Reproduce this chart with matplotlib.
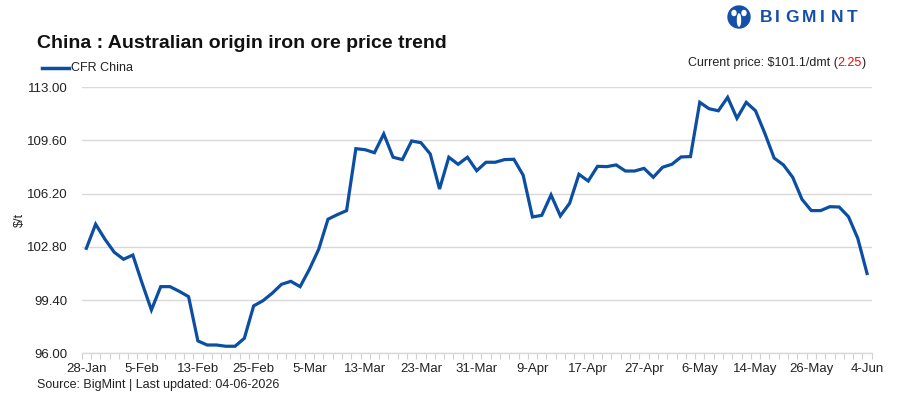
import matplotlib
matplotlib.use("Agg")
import matplotlib.pyplot as plt
from matplotlib.patches import Circle, Ellipse
import numpy as np

# ---- data ----
prices = [102.71, 104.25, 103.29, 102.46, 102.01, 102.28, 100.48, 98.77, 100.26, 100.26,
          99.96, 99.62, 96.79, 96.53, 96.53, 96.45, 96.45, 96.96, 99.03, 99.36,
          99.84, 100.41, 100.60, 100.26, 101.37, 102.65, 104.57, 104.86, 105.12, 109.08,
          109.01, 108.82, 110.02, 108.53, 108.38, 109.57, 109.46, 108.74, 106.50, 108.53,
          108.08, 108.53, 107.67, 108.21, 108.21, 108.38, 108.40, 107.38, 104.71, 104.82,
          106.12, 104.78, 105.59, 107.44, 107.01, 107.95, 107.93, 108.04, 107.65, 107.65,
          107.82, 107.25, 107.89, 108.08, 108.55, 108.57, 112.04, 111.63, 111.50, 112.36,
          111.02, 112.04, 111.50, 110.06, 108.48, 108.04, 107.25, 105.84, 105.12, 105.12,
          105.37, 105.35, 104.73, 103.35, 101.10]
tick_labels = ['28-Jan', '5-Feb', '13-Feb', '25-Feb', '5-Mar', '13-Mar', '23-Mar', '31-Mar',
               '9-Apr', '17-Apr', '27-Apr', '6-May', '14-May', '26-May', '4-Jun']
y_ticks = [96.00, 99.40, 102.80, 106.20, 109.60, 113.00]
series_name = 'CFR China'
title = 'China : Australian origin iron ore price trend'
current_price = 101.1
change = 2.25

W, H = 905, 405
fig = plt.figure(figsize=(W / 100, H / 100), dpi=100)
plt.rcParams['font.family'] = ['Liberation Sans', 'DejaVu Sans']

def fx(px):
    return px / W

def fy(py):
    return 1 - py / H

ax = fig.add_axes([fx(81.7), fy(353.3), fx(871.7) - fx(81.7), fy(87.3) - fy(353.3)])
blue = '#0b4ea2'
x = np.arange(len(prices))
ax.plot(x, prices, color=blue, lw=2.3, solid_joinstyle='miter', zorder=3)

ax.set_xlim(-0.5, len(prices) - 0.5)
ax.set_ylim(y_ticks[0], y_ticks[-1])
ax.set_yticks(y_ticks)
ax.set_yticklabels([f'{v:.2f}' for v in y_ticks], fontsize=9.5, color='#222222')
ax.tick_params(axis='y', length=0, pad=10)
ax.grid(axis='y', color='#d9d9d9', lw=1.0)
ax.set_axisbelow(True)

ax.set_xticks(np.arange(0, len(prices), 6))
ax.set_xticklabels(tick_labels, fontsize=9.5, color='#222222')
ax.set_xticks(np.arange(-0.5, len(prices), 1), minor=True)
ax.tick_params(axis='x', which='major', length=0, pad=7)
ax.tick_params(axis='x', which='minor', length=4, color='#d0d0d0', width=0.8)

for s in ['top', 'right', 'left']:
    ax.spines[s].set_visible(False)
ax.spines['bottom'].set_color('#d9d9d9')
ax.spines['bottom'].set_linewidth(1.0)

# y label
fig.text(fx(20), fy(220), '$/t', rotation=90, fontsize=9, ha='center', va='center', color='#222222')

# title
fig.text(fx(37), fy(43), title, fontsize=14, fontweight='bold', ha='left', va='center', color='#111111')

# legend
fig.add_artist(plt.Line2D([fx(42), fx(69)], [fy(68), fy(68)], color=blue, lw=2.5))
fig.text(fx(71), fy(68), series_name, fontsize=9, ha='left', va='center', color='#222222')

# current price
t2 = fig.text(fx(866), fy(63), ')', fontsize=9, ha='right', va='center', color='#222222')
fig.canvas.draw()
r = fig.canvas.get_renderer()
bb = t2.get_window_extent(r)
t3 = fig.text(bb.x0 / W, fy(63), f'{change:.2f}', fontsize=9, ha='right', va='center', color='#ff0000')
bb = t3.get_window_extent(r)
fig.text(bb.x0 / W, fy(63), f'Current price: ${current_price}/dmt (', fontsize=9, ha='right', va='center', color='#222222')

# source
fig.text(fx(37), fy(385), 'Source: BigMint | Last updated: 04-06-2026', fontsize=9, ha='left', va='center', color='#222222')

# logo
logo_blue = '#1450a8'
lax = fig.add_axes([0, 0, 1, 1], facecolor='none')
lax.set_xlim(0, W)
lax.set_ylim(H, 0)
lax.axis('off')
lax.add_patch(Circle((739, 17), 11, color=logo_blue))
lax.add_patch(Ellipse((734, 13), 4, 5, color='white'))
lax.add_patch(Ellipse((744, 13), 4, 5, color='white'))
lax.add_patch(Ellipse((739, 20), 3, 12, color='white'))
for i, ch in enumerate('BIGMINT'):
    xs = [760, 775, 785, 802, 820, 831, 847][i]
    lax.text(xs, 18, ch, fontsize=12.5, fontweight='bold', color=logo_blue, ha='left', va='center')

fig.savefig('out.png', dpi=100)
